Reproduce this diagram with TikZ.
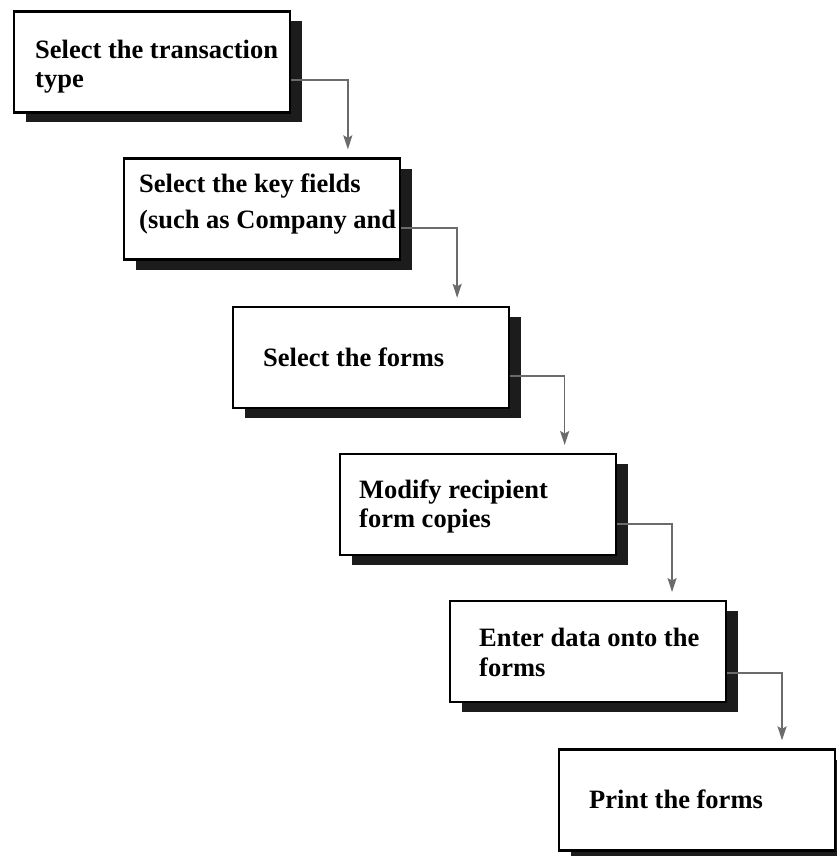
\documentclass[tikz,border=0pt]{standalone}
\usepackage{fontspec}
\setmainfont{Liberation Serif}
\usetikzlibrary{arrows.meta,shadows,positioning}
\definecolor{shadowc}{HTML}{1C1C1C}
\definecolor{connc}{HTML}{6B6B6B}
\newcommand{\mylines}[2]{\vtop{\baselineskip=29.5pt\hbox{#1}\hbox{#2}}}
\tikzset{
  stepbox/.style={draw=black, line width=2.3pt, fill=white, rectangle,
    minimum width=276pt, minimum height=101pt, inner sep=0pt,
    drop shadow={shadow xshift=12pt, shadow yshift=-10pt, opacity=1, fill=shadowc}},
  steptext/.style={anchor=base west, inner sep=0pt, align=left,
    font=\bfseries\fontsize{26.5}{29.5}\selectfont},
  conn/.style={draw=connc, line width=1.6pt, shorten >=8pt,
    -{Stealth[length=14pt,width=9pt,inset=2.5pt]}}
}
\begin{document}
\begin{tikzpicture}[x=1pt,y=-1pt]
\useasboundingbox (0,0) rectangle (837,856);
% boxes
\node[stepbox] (b1) at (151.7,62) {};
\node[stepbox] (b2) at (262,209) {};
\node[stepbox] (b3) at (371.3,357.5) {};
\node[stepbox] (b4) at (477.8,504.7) {};
\node[stepbox] (b5) at (588.2,651.7) {};
\node[stepbox] (b6) at (696.7,800) {};
% texts
\node[steptext] (t1) at (35,58.3) {\mylines{Select the transaction}{type}};
\node[steptext] (t2) at (139,192.7) {\vtop{\baselineskip=35.6pt\hbox{Select the key fields}\hbox{(such as Company and}}};
\node[steptext] (t3) at (263,366) {Select the forms};
\node[steptext] (t4) at (359,498) {\mylines{Modify recipient}{form copies}};
\node[steptext] (t5) at (479,646.7) {\mylines{Enter data onto the}{forms}};
\node[steptext] (t6) at (589,808) {Print the forms};
% connectors
\draw[conn] ([yshift=-18pt]b1.east) -| ([xshift=225pt]b2.north west);
\draw[conn] ([yshift=-19pt]b2.east) -| ([xshift=225pt]b3.north west);
\draw[conn] ([yshift=-18.5pt]b3.east) -| ([xshift=226pt]b4.north west);
\draw[conn] ([yshift=-19pt]b4.east) -| ([xshift=223pt]b5.north west);
\draw[conn] ([yshift=-21pt]b5.east) -| ([xshift=224.5pt]b6.north west);
\end{tikzpicture}
\end{document}
